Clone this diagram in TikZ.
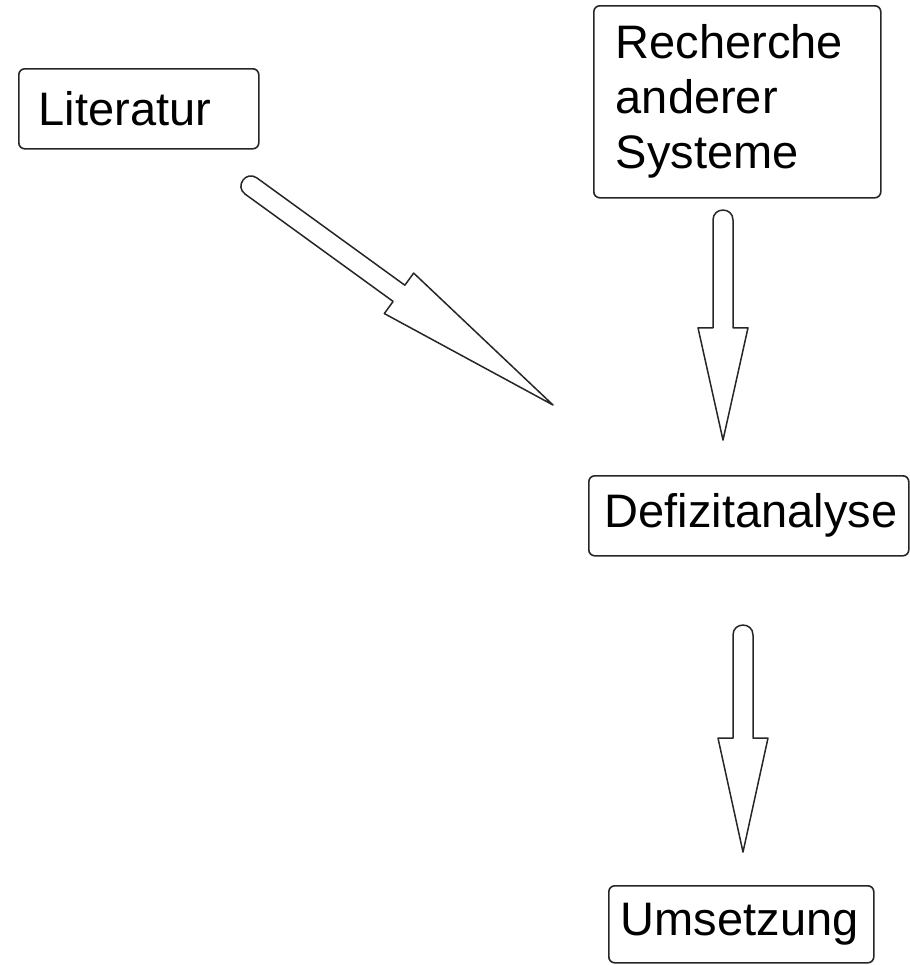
\documentclass[tikz,border=0pt]{standalone}
\usepackage{fontspec}
\setmainfont{Liberation Sans}
\usetikzlibrary{calc}
\tikzset{
  note/.style={draw=black!85, line width=0.8pt, anchor=north west, align=left,
    inner ysep=2pt, rounded corners=3pt,
    font=\fontsize{23.5}{27.5}\selectfont},
  outline/.style={draw=black!85, line width=0.75pt, line join=round}
}
% hollow block arrow: tail, tip, where the head begins
\newcommand{\blockarrow}[3]{%
  \draw[outline] ($(#1)!5pt!90:(#2)$)
    -- ($(#1)!#3!(#2)!5pt!90:(#2)$)
    -- ($(#1)!#3!(#2)!12.5pt!90:(#2)$)
    -- (#2)
    -- ($(#1)!#3!(#2)!12.5pt!-90:(#2)$)
    -- ($(#1)!#3!(#2)!5pt!-90:(#2)$)
    -- ($(#1)!5pt!-90:(#2)$)
    to[out=90, in=90, relative, looseness=1.7] ($(#1)!5pt!90:(#2)$);
}

\begin{document}
\begin{tikzpicture}[x=0.5pt, y=-0.5pt]
  \useasboundingbox (0,0) rectangle (910,965);

  \node[note, text width=100pt, inner xsep=10pt, minimum height=40pt] (lit) at (18,68) {Literatur};
  \node[note, text width=121.5pt, inner xsep=11pt, minimum height=96pt] (recherche) at (593,5)
    {Recherche\\anderer\\Systeme};
  \node[note, text width=144pt, inner xsep=8pt, minimum height=40pt] (defizit) at (588,475) {Defizitanalyse};
  \node[note, text width=120.5pt, inner xsep=6pt, minimum height=38.5pt] (umsetzung) at (608,885) {Umsetzung};

  \coordinate (lit-tail) at (251,186);
  \coordinate (lit-tip) at (553,405);
  \coordinate (rech-tail) at (723,220);
  \coordinate (rech-tip) at (723,440);
  \coordinate (def-tail) at (743,635);
  \coordinate (def-tip) at (743,852);

  \blockarrow{lit-tail}{lit-tip}{0.49}
  \blockarrow{rech-tail}{rech-tip}{0.49}
  \blockarrow{def-tail}{def-tip}{0.475}
\end{tikzpicture}
\end{document}
